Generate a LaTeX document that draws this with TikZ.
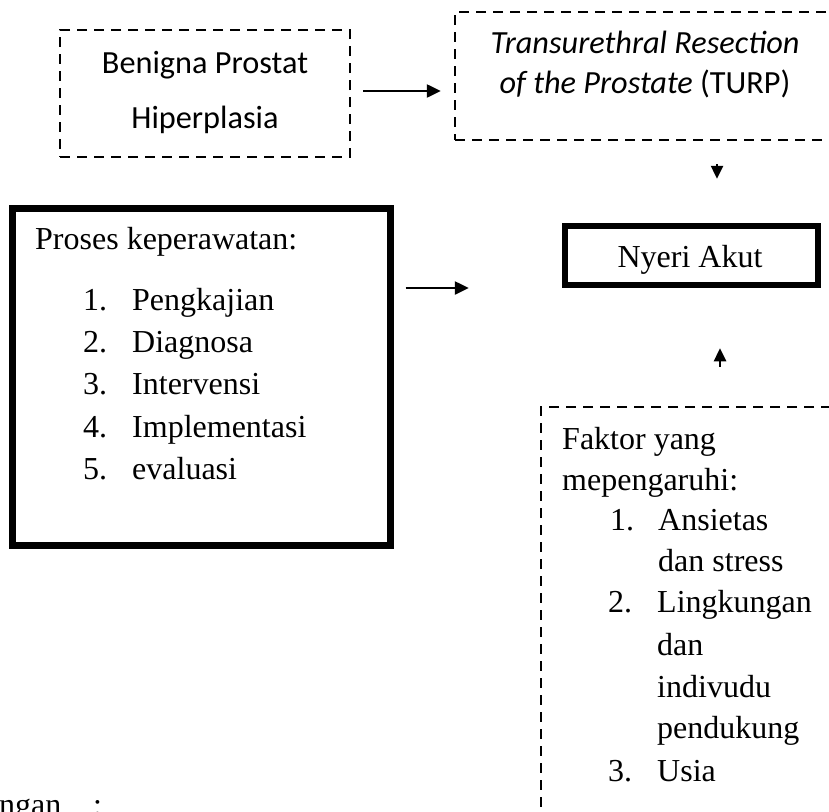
\documentclass[tikz,border=0pt]{standalone}
\usepackage{fontspec}
\setmainfont{Liberation Serif}
\newfontfamily\calfont{Carlito}
\usetikzlibrary{arrows.meta}
\tikzset{
  dbox/.style={draw, line width=2.5pt, dash pattern=on 10pt off 7pt, rectangle, inner sep=0pt},
  tbox/.style={draw, rectangle, inner sep=0pt},
  arr/.style={line width=2.5pt, -{Triangle[length=14pt,width=13pt]}},
  sarr/.style={line width=2.5pt, -{Triangle[length=13pt,width=12pt]}},
  ctext/.style={font=\calfont\fontsize{32.3}{38}\selectfont, anchor=base, inner sep=0pt},
  ttext/.style={font=\fontsize{32}{40}\selectfont, anchor=base west, inner sep=0pt},
}
\begin{document}
\begin{tikzpicture}[x=1pt,y=-1pt]
\useasboundingbox (0,0) rectangle (829,811);
\begin{scope}
\clip (0,0) rectangle (829,811);
% boxes
\node[dbox, minimum width=290pt, minimum height=127pt] (bph) at (205,93.5) {};
\node[dbox, minimum width=385pt, minimum height=128pt] (turp) at (647.5,76) {};
\node[tbox, line width=6.5pt, minimum width=253pt, minimum height=59pt] (nyeri) at (691.5,255.5) {};
\node[tbox, line width=7pt, minimum width=378pt, minimum height=337pt] (proses) at (201,376.5) {};
\node[dbox, minimum width=299pt, minimum height=423pt] (faktor) at (690.5,618.5) {};

% texts
\node[ctext] (t1) at (205,73) {Benigna Prostat};
\node[ctext] (t2) at (205,128) {Hiperplasia};
\node[ctext] (t3) at (645,53) {\itshape Transurethral Resection};
\node[ctext] (t4) at (645,93) {\textit{of the Prostate} (TURP)};
\node[ttext, anchor=base] (t5) at (690,267) {Nyeri Akut};

\node[ttext] (p0) at (35,249) {Proses keperawatan:};
\node[ttext] (pn1) at (83,310) {1.};
\node[ttext] (pi1) at (132,310) {Pengkajian};
\node[ttext] (pn2) at (83,352) {2.};
\node[ttext] (pi2) at (132,352) {Diagnosa};
\node[ttext] (pn3) at (83,394) {3.};
\node[ttext] (pi3) at (132,394) {Intervensi};
\node[ttext] (pn4) at (83,437) {4.};
\node[ttext] (pi4) at (132,437) {Implementasi};
\node[ttext] (pn5) at (83,479) {5.};
\node[ttext] (pi5) at (132,479) {evaluasi};

\node[ttext] (f0) at (562,449) {Faktor yang};
\node[ttext] (f1) at (562,490) {mepengaruhi:};
\node[ttext] (fn1) at (610,530) {1.};
\node[ttext] (fi1) at (658,530) {Ansietas};
\node[ttext] (fi1b) at (658,571) {dan stress};
\node[ttext] (fn2) at (608,612) {2.};
\node[ttext] (fi2) at (657,612) {Lingkungan};
\node[ttext] (fi2b) at (657,655) {dan};
\node[ttext] (fi2c) at (657,697) {indivudu};
\node[ttext] (fi2d) at (657,738) {pendukung};
\node[ttext] (fn3) at (608,781) {3.};
\node[ttext] (fi3) at (657,781) {Usia};

\node[ttext] (k0) at (-1,815) {ngan};
\node[ttext] (k1) at (93,815) {:};

% connectors
\coordinate (a1) at (0,91);
\draw[arr, shorten <=12pt, shorten >=13pt] (bph.east |- a1) -- (turp.west |- a1);
\coordinate (a2) at (717,0);
\draw[sarr, shorten <=23pt, shorten >=44pt] (turp.south -| a2) -- (nyeri.north -| a2);
\coordinate (a3) at (0,288);
\draw[arr, shorten <=12pt, shorten >=93pt] (proses.east |- a3) -- (nyeri.west |- a3);
\coordinate (a4) at (720,0);
\draw[sarr, shorten <=39pt, shorten >=60pt] (faktor.north -| a4) -- (nyeri.south -| a4);
\end{scope}
\end{tikzpicture}
\end{document}
